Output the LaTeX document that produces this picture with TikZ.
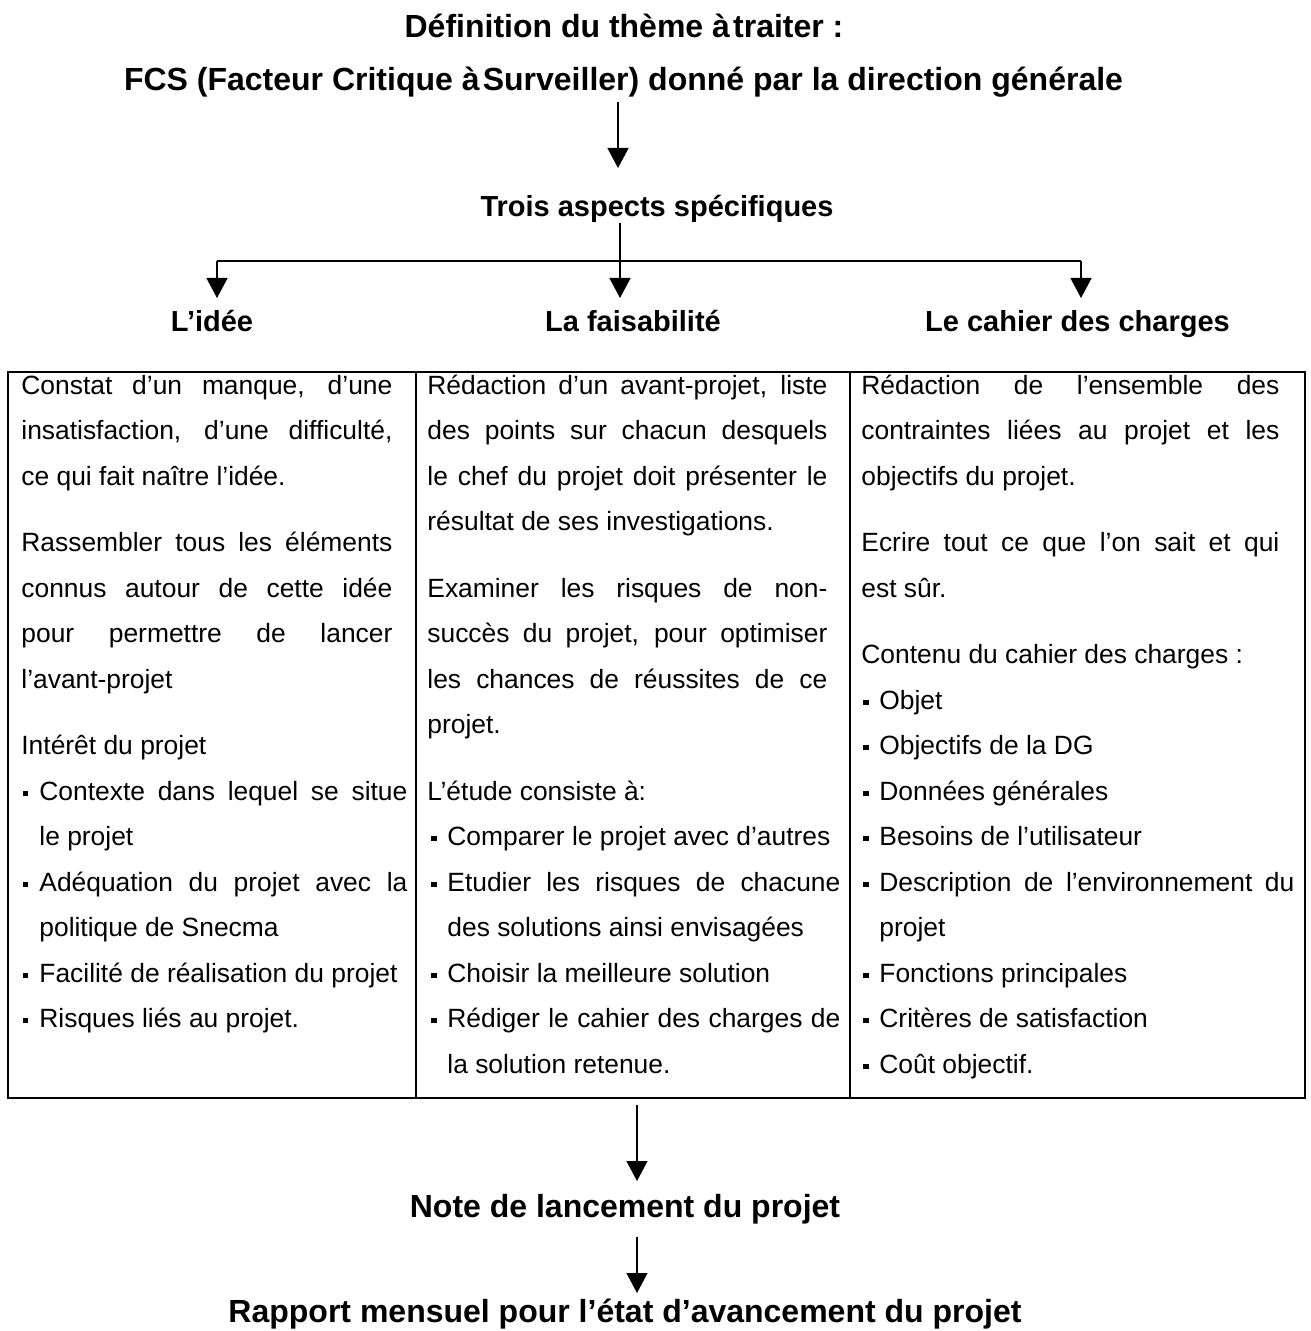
\documentclass[tikz,border=0pt]{standalone}
\usepackage{fontspec}
\setmainfont{Liberation Sans}
\usetikzlibrary{arrows.meta}

% widths used inside the table cells
\newlength\paraw
\newlength\listw
\newlength\bind
\newlength\boff
\newcommand\sqbul{\rule[2.1pt]{2.6pt}{2.6pt}}
\newcommand\jl[1]{\noindent\makebox[\paraw][s]{#1}\par}
\newcommand\pl[1]{\noindent#1\par}
\newcommand\bj[1]{\noindent\makebox[\bind][l]{\hspace{\boff}\sqbul}\makebox[\dimexpr\listw-\bind\relax][s]{#1}\par}
\newcommand\bl[1]{\noindent\makebox[\bind][l]{\hspace{\boff}\sqbul}#1\par}
\newcommand\bc[1]{\noindent\hspace*{\bind}#1\par}
\newcommand\pgap{\vspace{10.5pt}}
\newcommand\cellfont{\fontsize{13.2}{22.75}\selectfont}

\begin{document}
\begin{tikzpicture}[x=0.5pt,y=-0.5pt,
  title/.style={inner sep=0pt, anchor=base, font=\fontsize{16}{19}\selectfont\bfseries},
  head/.style={inner sep=0pt, anchor=base, font=\fontsize{14.5}{17}\selectfont\bfseries},
  cell/.style={inner sep=0pt, anchor=base west},
  arr/.style={-{Triangle[length=10pt,width=10.5pt]}, line width=0.65pt},
  link/.style={line width=0.65pt},
  rule/.style={line width=1pt}]
\useasboundingbox (0,0) rectangle (1310,1331);

% headings
\node[title] (def) at (624,38) {Définition du thème à\hspace{0.1em}traiter :};
\node[title] (fcs) at (623.5,91) {FCS (Facteur Critique à\hspace{0.1em}Surveiller) donné par la direction générale};
\node[head] (trois) at (657,217) {Trois aspects spécifiques};
\node[head] (idee) at (212,332) {L’idée};
\node[head] (fais) at (633,332) {La faisabilité};
\node[head] (cahier) at (1077.5,332) {Le cahier des charges};
\node[title] (note) at (625,1217) {Note de lancement du projet};
\node[title] (rapport) at (625,1322) {Rapport mensuel pour l’état d’avancement du projet};

% connector end points
\coordinate (a1s) at (618,102);
\coordinate (a1e) at (618,168);
\coordinate (tr) at (620,223);
\coordinate (jm) at (620,261);
\coordinate (jl) at (217,261);
\coordinate (jr) at (1081,261);
\coordinate (el) at (217,298);
\coordinate (em) at (620,298);
\coordinate (er) at (1081,298);
\coordinate (b1s) at (637,1105);
\coordinate (b1e) at (637,1181);
\coordinate (b2s) at (637,1237);
\coordinate (b2e) at (637,1293);

\draw[arr] (a1s) -- (a1e);
\draw[link] (tr) -- (jm);
\draw[link] (jl) -- (jr);
\draw[arr] (jl) -- (el);
\draw[arr] (jm) -- (em);
\draw[arr] (jr) -- (er);
\draw[arr] (b1s) -- (b1e);
\draw[arr] (b2s) -- (b2e);

% table frame and column rules
\draw[rule] (8,372) rectangle (1305,1098);
\draw[rule] (416,372) -- (416,1098);
\draw[rule] (850,372) -- (850,1098);

% first column
\node[cell] (c1) at (21,394) {\parbox[t]{193pt}{\cellfont
\setlength\paraw{185.5pt}\setlength\listw{193pt}\setlength\bind{9pt}\setlength\boff{0.6pt}
\jl{Constat d’un manque, d’une}
\jl{insatisfaction, d’une difficulté,}
\pl{ce qui fait naître l’idée.}
\pgap
\jl{Rassembler tous les éléments}
\jl{connus autour de cette idée}
\jl{pour permettre de lancer}
\pl{l’avant-projet}
\pgap
\pl{Intérêt du projet}
\bj{Contexte dans lequel se situe}
\bc{le projet}
\bj{Adéquation du projet avec la}
\bc{politique de Snecma}
\bl{Facilité de réalisation du projet}
\bl{Risques liés au projet.}}};

% second column
\node[cell] (c2) at (427,394) {\parbox[t]{206.5pt}{\cellfont
\setlength\paraw{200pt}\setlength\listw{206.5pt}\setlength\bind{10pt}\setlength\boff{2pt}
\jl{Rédaction d’un avant-projet, liste}
\jl{des points sur chacun desquels}
\jl{le chef du projet doit présenter le}
\pl{résultat de ses investigations.}
\pgap
\jl{Examiner les risques de non-}
\jl{succès du projet, pour optimiser}
\jl{les chances de réussites de ce}
\pl{projet.}
\pgap
\pl{L’étude consiste à:}
\bl{Comparer le projet avec d’autres}
\bj{Etudier les risques de chacune}
\bc{des solutions ainsi envisagées}
\bl{Choisir la meilleure solution}
\bj{Rédiger le cahier des charges de}
\bc{la solution retenue.}}};

% third column
\node[cell] (c3) at (861,394) {\parbox[t]{216.5pt}{\cellfont
\setlength\paraw{209pt}\setlength\listw{216.5pt}\setlength\bind{9pt}\setlength\boff{1pt}
\jl{Rédaction de l’ensemble des}
\jl{contraintes liées au projet et les}
\pl{objectifs du projet.}
\pgap
\jl{Ecrire tout ce que l’on sait et qui}
\pl{est sûr.}
\pgap
\pl{Contenu du cahier des charges :}
\bl{Objet}
\bl{Objectifs de la DG}
\bl{Données générales}
\bl{Besoins de l’utilisateur}
\bj{Description de l’environnement du}
\bc{projet}
\bl{Fonctions principales}
\bl{Critères de satisfaction}
\bl{Coût objectif.}}};
\end{tikzpicture}
\end{document}
